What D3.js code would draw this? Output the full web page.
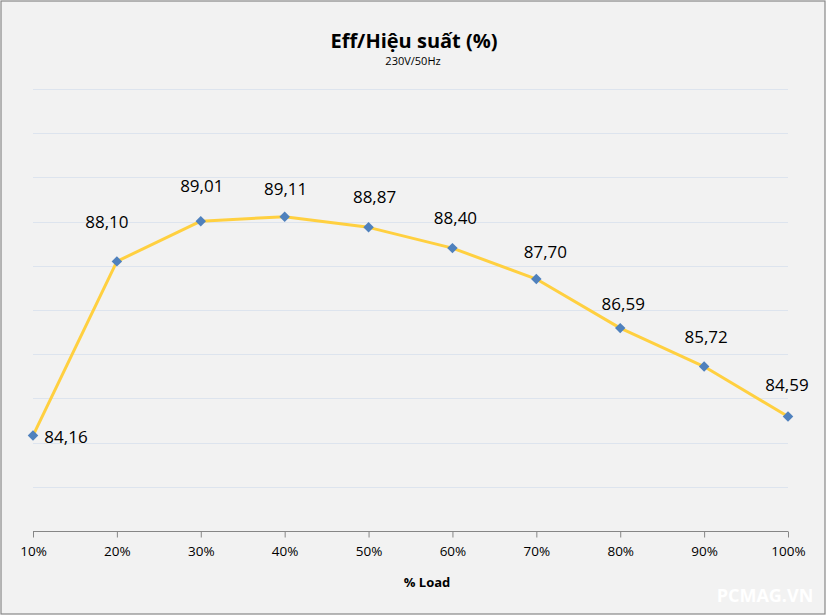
<!DOCTYPE html>
<html>
<head>
<meta charset="utf-8">
<script src="https://cdn.jsdelivr.net/npm/d3@7"></script>
<style>
  html, body { margin: 0; padding: 0; background: #ffffff; }
  svg { display: block; font-family: "Open Sans", "Noto Sans", sans-serif; }
</style>
</head>
<body>
<svg id="chart" width="827" height="616"></svg>
<script>
const categories = ["10%", "20%", "30%", "40%", "50%", "60%", "70%", "80%", "90%", "100%"];
const efficiency = [84.16, 88.10, 89.01, 89.11, 88.87, 88.40, 87.70, 86.59, 85.72, 84.59];
const valueLabels = ["84,16", "88,10", "89,01", "89,11", "88,87", "88,40", "87,70", "86,59", "85,72", "84,59"];
const yGridValues = [82, 83, 84, 85, 86, 87, 88, 89, 90, 91, 92];

// layout: manual label nudges (px) as placed in the original chart
const labelLayout = {
  dx: [33, -10, 1, 1, 6, 3, 9, 3, 2, -1],
  dy: [7, -33, -29, -22, -24, -24, -21, -18, -24, -26]
};

const svg = d3.select("#chart");
const W = 827, H = 616;
const m = { left: 33, right: 39, top: 89, bottom: 85 };

svg.append("rect").attr("x", 1).attr("y", 1).attr("width", W - 3).attr("height", H - 3)
  .attr("fill", "#f2f2f2").attr("stroke", "#878787").attr("stroke-width", 1.2);

const x = d3.scalePoint().domain(categories).range([m.left, W - m.right]);
const y = d3.scaleLinear().domain([82, 92]).range([H - m.bottom, m.top]);

// gridlines
svg.append("g").selectAll("line").data(yGridValues.slice(1)).join("line")
  .attr("x1", m.left).attr("x2", W - m.right)
  .attr("y1", d => Math.round(y(d)) + 0.5).attr("y2", d => Math.round(y(d)) + 0.5)
  .attr("stroke", "#dde4ee").attr("stroke-width", 1);

// x axis
const xAxis = d3.axisBottom(x).tickSize(6).tickPadding(9);
const gx = svg.append("g").attr("transform", `translate(0,${Math.round(y(82)) + 0.5})`).call(xAxis);
gx.select(".domain").attr("stroke", "#868686").attr("d", `M${m.left},0H${W - m.right}`);
gx.selectAll(".tick line").attr("stroke", "#868686");
gx.selectAll(".tick text").attr("fill", "#000").style("font-size", "13.5px")
  .style("font-family", "'Open Sans', 'Noto Sans', sans-serif");

// line
const line = d3.line().x((d, i) => x(categories[i])).y(d => y(d));
svg.append("path").datum(efficiency).attr("d", line)
  .attr("fill", "none").attr("stroke", "#ffd040").attr("stroke-width", 3)
  .attr("stroke-linejoin", "round");

// markers
const diamond = d3.symbol().type(d3.symbolDiamond2).size(70);
svg.append("g").selectAll("path").data(efficiency).join("path")
  .attr("transform", (d, i) => `translate(${x(categories[i])},${y(d)})`)
  .attr("d", diamond).attr("fill", "#4f81bd");

// value labels
svg.append("g").selectAll("text").data(efficiency).join("text")
  .attr("x", (d, i) => x(categories[i]) + labelLayout.dx[i])
  .attr("y", (d, i) => y(d) + labelLayout.dy[i])
  .attr("text-anchor", "middle")
  .style("font-size", "17px").attr("fill", "#000")
  .text((d, i) => valueLabels[i]);

// titles
svg.append("text").attr("x", 414).attr("y", 48).attr("text-anchor", "middle")
  .style("font-size", "20px").style("font-weight", "bold").text("Eff/Hiệu suất (%)");
svg.append("text").attr("x", 413).attr("y", 65).attr("text-anchor", "middle")
  .style("font-size", "11px").text("230V/50Hz");
svg.append("text").attr("x", 427).attr("y", 587).attr("text-anchor", "middle")
  .style("font-size", "13px").style("font-weight", "bold").text("% Load");

// watermark
svg.append("text").attr("x", 765).attr("y", 602).attr("text-anchor", "middle")
  .style("font-size", "18px").style("font-weight", "bold").attr("fill", "#ffffff")
  .text("PCMAG.VN");
</script>
</body>
</html>
